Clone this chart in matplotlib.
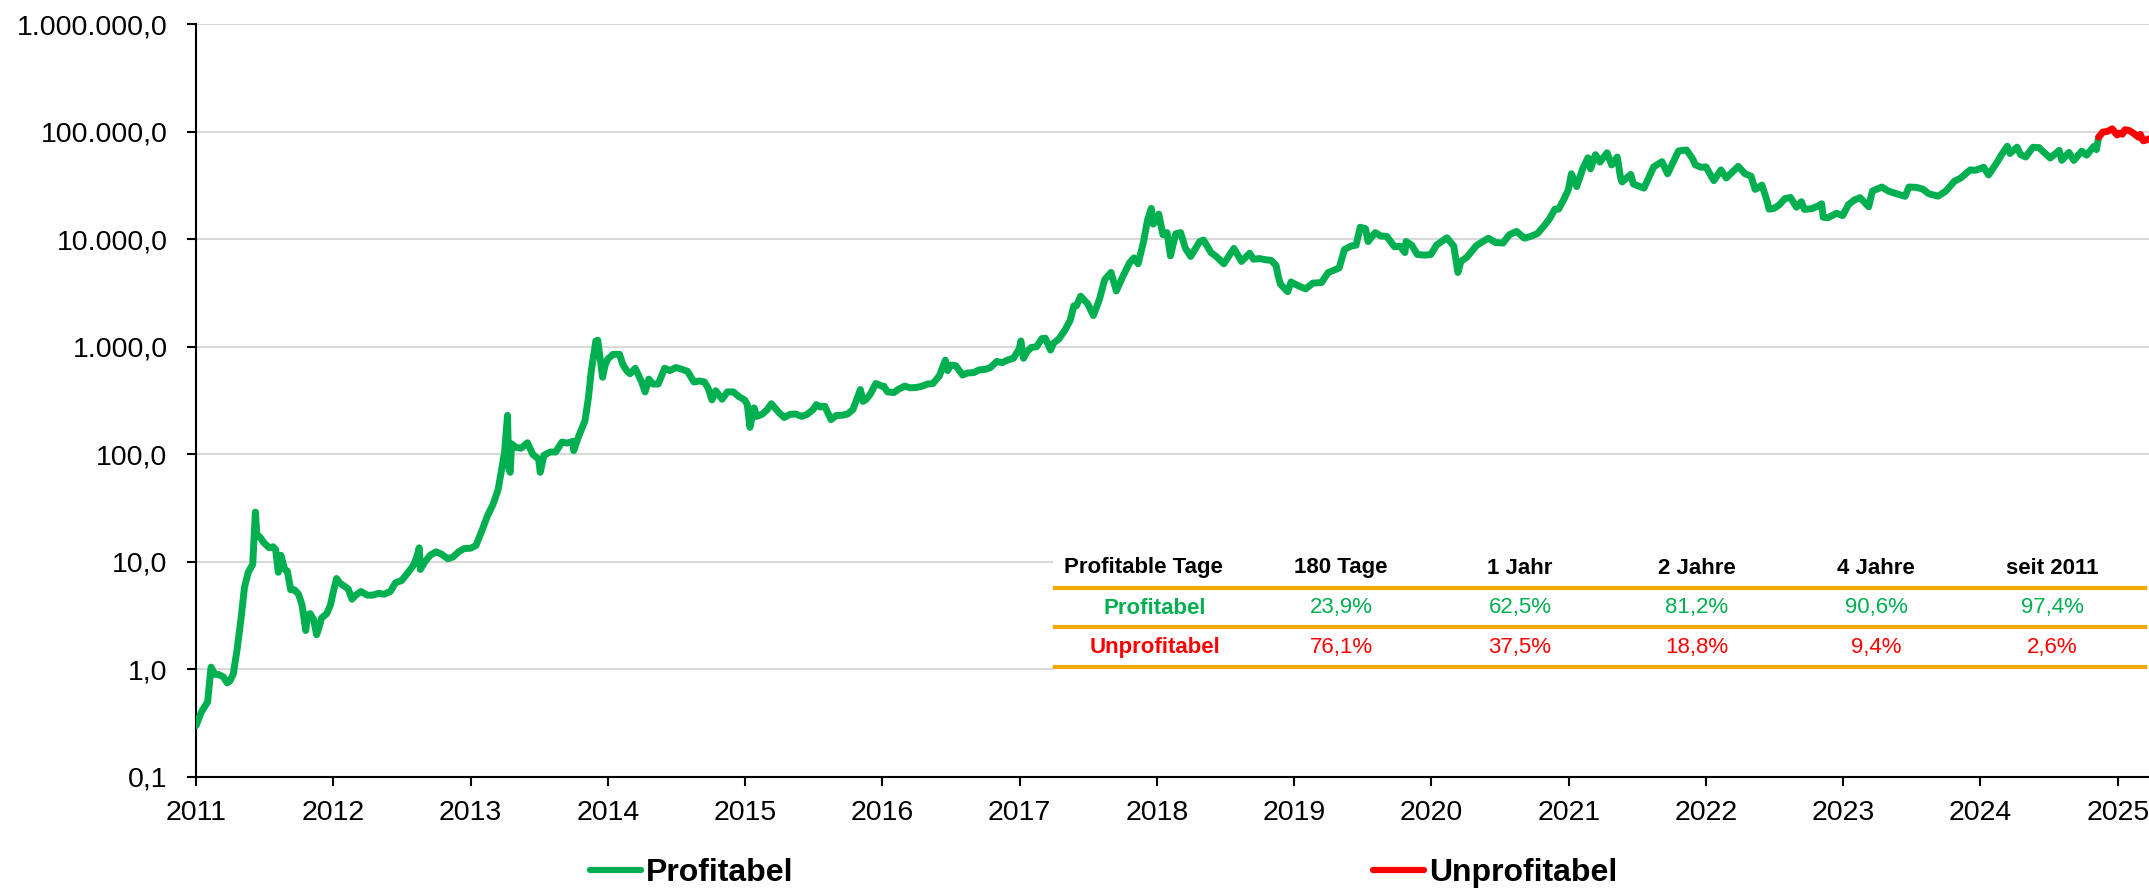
import matplotlib
matplotlib.use("Agg")
import matplotlib.pyplot as plt
from matplotlib.ticker import FixedLocator, FuncFormatter, NullLocator
from matplotlib.lines import Line2D
import pandas as pd

plt.rcParams['font.family'] = ['Liberation Sans', 'DejaVu Sans']

# ---------------- data ----------------
profit_dates = [
    "2011-01-01","2011-01-15","2011-02-01","2011-02-10","2011-02-20","2011-03-01","2011-03-15","2011-03-25",
    "2011-04-01","2011-04-10","2011-04-20","2011-05-01","2011-05-10","2011-05-20","2011-06-01","2011-06-08",
    "2011-06-12","2011-06-20","2011-07-01","2011-07-15","2011-07-25","2011-08-01","2011-08-08","2011-08-15",
    "2011-08-25","2011-09-01","2011-09-10","2011-09-20","2011-10-01","2011-10-10","2011-10-20","2011-10-25",
    "2011-11-01","2011-11-10","2011-11-18","2011-11-25","2011-12-01","2011-12-15","2011-12-25",
    "2012-01-01","2012-01-10","2012-01-20","2012-02-01","2012-02-10","2012-02-20","2012-03-01","2012-03-15",
    "2012-04-01","2012-04-15","2012-05-01","2012-05-15","2012-06-01","2012-06-15","2012-07-01","2012-07-15",
    "2012-08-01","2012-08-10","2012-08-17","2012-08-20","2012-09-01","2012-09-15","2012-10-01","2012-10-15",
    "2012-11-01","2012-11-15","2012-12-01","2012-12-15",
    "2013-01-01","2013-01-15","2013-02-01","2013-02-15","2013-03-01","2013-03-15","2013-03-25","2013-04-01",
    "2013-04-09","2013-04-12","2013-04-16","2013-04-20","2013-05-01","2013-05-15","2013-06-01","2013-06-15",
    "2013-07-01","2013-07-05","2013-07-15","2013-08-01","2013-08-15","2013-09-01","2013-09-15","2013-10-01",
    "2013-10-02","2013-10-15","2013-11-01","2013-11-10","2013-11-18","2013-11-30","2013-12-05","2013-12-10",
    "2013-12-18","2013-12-25",
    "2014-01-01","2014-01-15","2014-02-01","2014-02-10","2014-02-20","2014-03-01","2014-03-15","2014-04-01",
    "2014-04-10","2014-04-20","2014-05-01","2014-05-15","2014-06-01","2014-06-15","2014-07-01","2014-07-15",
    "2014-08-01","2014-08-18","2014-09-01","2014-09-15","2014-09-25","2014-10-05","2014-10-15","2014-11-01",
    "2014-11-15","2014-12-01","2014-12-15","2014-12-31",
    "2015-01-07","2015-01-14","2015-01-25","2015-02-01","2015-02-15","2015-03-01","2015-03-12","2015-04-01",
    "2015-04-15","2015-05-01","2015-05-15","2015-06-01","2015-06-15","2015-07-01","2015-07-10","2015-07-20",
    "2015-08-01","2015-08-18","2015-09-01","2015-09-15","2015-10-01","2015-10-15","2015-11-04","2015-11-11",
    "2015-11-20","2015-12-01","2015-12-15","2015-12-31",
    "2016-01-05","2016-01-15","2016-02-01","2016-02-15","2016-03-01","2016-03-15","2016-04-01","2016-04-15",
    "2016-05-01","2016-05-15","2016-06-01","2016-06-17","2016-06-23","2016-07-01","2016-07-15","2016-08-02",
    "2016-08-15","2016-09-01","2016-09-15","2016-10-01","2016-10-15","2016-11-01","2016-11-15","2016-12-01",
    "2016-12-15","2016-12-31",
    "2017-01-04","2017-01-11","2017-01-20","2017-02-01","2017-02-15","2017-03-01","2017-03-10","2017-03-24",
    "2017-04-01","2017-04-15","2017-05-01","2017-05-15","2017-05-25","2017-06-01","2017-06-12","2017-07-01",
    "2017-07-16","2017-08-01","2017-08-15","2017-09-01","2017-09-15","2017-10-01","2017-10-20","2017-11-01",
    "2017-11-12","2017-11-26","2017-12-07","2017-12-17","2017-12-22","2017-12-28",
    "2018-01-06","2018-01-17","2018-01-28","2018-02-06","2018-02-20","2018-03-05","2018-03-18","2018-04-01",
    "2018-04-25","2018-05-05","2018-05-25","2018-06-10","2018-06-28","2018-07-25","2018-08-14","2018-09-05",
    "2018-09-15","2018-10-01","2018-10-15","2018-11-01","2018-11-14","2018-11-20","2018-11-26","2018-12-15",
    "2018-12-24",
    "2019-01-01","2019-01-15","2019-02-01","2019-02-20","2019-03-15","2019-04-02","2019-04-15","2019-05-01",
    "2019-05-15","2019-06-01","2019-06-15","2019-06-26","2019-07-10","2019-07-17","2019-08-05","2019-08-20",
    "2019-09-05","2019-09-25","2019-10-10","2019-10-23","2019-10-26","2019-11-10","2019-11-25","2019-12-15",
    "2019-12-31",
    "2020-01-15","2020-02-12","2020-03-01","2020-03-12","2020-03-20","2020-04-05","2020-04-30","2020-05-15",
    "2020-06-01","2020-06-20","2020-07-10","2020-07-27","2020-08-15","2020-09-05","2020-09-25","2020-10-10",
    "2020-10-25","2020-11-10","2020-11-25","2020-12-05","2020-12-20","2020-12-31",
    "2021-01-08","2021-01-22","2021-02-08","2021-02-21","2021-02-28","2021-03-13","2021-03-25","2021-04-13",
    "2021-04-25","2021-05-10","2021-05-19","2021-05-23","2021-06-15","2021-06-22","2021-07-20","2021-08-15",
    "2021-09-06","2021-09-21","2021-10-01","2021-10-20","2021-11-10","2021-11-25","2021-12-04","2021-12-20",
    "2022-01-01","2022-01-22","2022-02-10","2022-02-24","2022-03-28","2022-04-15","2022-05-01","2022-05-12",
    "2022-05-30","2022-06-13","2022-06-18","2022-07-01","2022-07-15","2022-07-30","2022-08-14","2022-08-30",
    "2022-09-12","2022-09-20","2022-10-10","2022-10-30","2022-11-05","2022-11-09","2022-11-21","2022-12-15",
    "2022-12-31",
    "2023-01-15","2023-01-31","2023-02-15","2023-03-10","2023-03-20","2023-04-14","2023-05-01","2023-05-25",
    "2023-06-15","2023-06-25","2023-07-15","2023-08-01","2023-08-17","2023-09-11","2023-10-01","2023-10-24",
    "2023-11-10","2023-12-05","2023-12-20",
    "2024-01-10","2024-01-23","2024-02-15","2024-02-28","2024-03-13","2024-03-20","2024-04-08","2024-04-17",
    "2024-05-01","2024-05-20","2024-06-05","2024-06-25","2024-07-05","2024-07-29","2024-08-05","2024-08-24",
    "2024-09-06","2024-09-27","2024-10-10","2024-10-29","2024-11-05","2024-11-11",
]
profit_prices = [
    0.30, 0.40, 0.50, 1.05, 0.90, 0.90, 0.85, 0.75,
    0.78, 0.90, 1.5, 3.0, 5.8, 8.0, 9.5, 29.0,
    18.0, 17.0, 15.0, 13.5, 13.8, 13.0, 8.0, 11.5,
    8.5, 8.2, 5.5, 5.5, 5.0, 4.0, 2.3, 3.2,
    3.3, 2.9, 2.1, 2.5, 3.0, 3.3, 4.0,
    5.2, 7.0, 6.3, 5.9, 5.6, 4.5, 4.9, 5.3,
    4.9, 4.9, 5.1, 5.0, 5.3, 6.4, 6.7, 7.7,
    9.2, 11.0, 13.5, 8.5, 10.0, 11.5, 12.4, 11.8,
    10.7, 11.1, 12.5, 13.3,
    13.4, 14.2, 20.0, 27.0, 34.0, 47.0, 75.0, 104.0,
    230.0, 75.0, 68.0, 125.0, 116.0, 114.0, 128.0, 100.0,
    90.0, 68.0, 98.0, 105.0, 105.0, 130.0, 127.0, 132.0,
    108.0, 146.0, 205.0, 330.0, 600.0, 1130.0, 1150.0, 850.0,
    520.0, 680.0,
    770.0, 850.0, 850.0, 680.0, 600.0, 560.0, 630.0, 470.0,
    380.0, 500.0, 450.0, 450.0, 630.0, 600.0, 640.0, 620.0,
    590.0, 470.0, 480.0, 470.0, 410.0, 320.0, 390.0, 325.0,
    380.0, 380.0, 345.0, 320.0,
    290.0, 178.0, 270.0, 225.0, 235.0, 260.0, 295.0, 245.0,
    220.0, 235.0, 237.0, 225.0, 235.0, 260.0, 290.0, 275.0,
    280.0, 210.0, 230.0, 230.0, 237.0, 260.0, 400.0, 310.0,
    325.0, 365.0, 455.0, 430.0,
    430.0, 380.0, 375.0, 405.0, 430.0, 415.0, 418.0, 428.0,
    450.0, 455.0, 535.0, 750.0, 600.0, 675.0, 665.0, 545.0,
    570.0, 575.0, 610.0, 615.0, 640.0, 730.0, 710.0, 755.0,
    780.0, 960.0,
    1130.0, 780.0, 895.0, 985.0, 1000.0, 1190.0, 1200.0, 930.0,
    1080.0, 1180.0, 1420.0, 1750.0, 2400.0, 2400.0, 2950.0, 2500.0,
    1950.0, 2750.0, 4200.0, 4900.0, 3300.0, 4400.0, 6000.0, 6700.0,
    5900.0, 9300.0, 15000.0, 19300.0, 13800.0, 14500.0,
    17100.0, 11000.0, 11500.0, 7000.0, 11200.0, 11500.0, 8200.0, 6900.0,
    9500.0, 9800.0, 7500.0, 6800.0, 5900.0, 8200.0, 6200.0, 7400.0,
    6500.0, 6600.0, 6450.0, 6350.0, 5700.0, 4500.0, 3800.0, 3250.0,
    4000.0,
    3850.0, 3650.0, 3450.0, 3900.0, 3950.0, 4900.0, 5100.0, 5400.0,
    8000.0, 8600.0, 8800.0, 12900.0, 12500.0, 9500.0, 11500.0, 10700.0,
    10600.0, 8500.0, 8600.0, 7500.0, 9500.0, 8800.0, 7200.0, 7100.0,
    7200.0,
    8800.0, 10300.0, 8600.0, 4900.0, 6200.0, 6800.0, 8700.0, 9400.0,
    10200.0, 9300.0, 9200.0, 11000.0, 11800.0, 10200.0, 10700.0, 11300.0,
    13000.0, 15300.0, 19000.0, 19000.0, 23800.0, 29000.0,
    40500.0, 30800.0, 46000.0, 57000.0, 45000.0, 61000.0, 52000.0, 63500.0,
    49000.0, 58000.0, 37000.0, 34000.0, 40000.0, 32500.0, 29800.0, 47000.0,
    52500.0, 40500.0, 48000.0, 66000.0, 67500.0, 57000.0, 49000.0, 46500.0,
    47000.0, 35000.0, 44000.0, 37000.0, 47500.0, 40500.0, 38500.0, 29000.0,
    31800.0, 22500.0, 19000.0, 19300.0, 20800.0, 23800.0, 24400.0, 19800.0,
    22300.0, 18900.0, 19200.0, 20600.0, 21300.0, 16000.0, 15800.0, 17400.0,
    16550.0,
    20900.0, 23100.0, 24300.0, 20000.0, 28000.0, 30500.0, 28000.0, 26300.0,
    25000.0, 30500.0, 30300.0, 29200.0, 26400.0, 25100.0, 27900.0, 34500.0,
    37000.0, 44000.0, 43700.0,
    46600.0, 39500.0, 52000.0, 62000.0, 73000.0, 62500.0, 71600.0, 61300.0,
    58000.0, 71400.0, 71000.0, 61000.0, 56700.0, 66800.0, 54000.0, 64000.0,
    53900.0, 65800.0, 60300.0, 72700.0, 68000.0, 88700.0,
]
unprofit_dates = [
    "2024-11-11","2024-11-22","2024-12-05","2024-12-17","2024-12-30","2025-01-07","2025-01-13",
    "2025-01-20","2025-01-31","2025-02-10","2025-02-25","2025-03-02","2025-03-10","2025-03-20","2025-03-25",
]
unprofit_prices = [
    88700.0, 98900.0, 100500.0, 106000.0, 93000.0, 96900.0, 94500.0,
    104000.0, 102400.0, 97400.0, 88700.0, 94200.0, 82000.0, 84000.0, 85500.0,
]

table_header = ["Profitable Tage", "180 Tage", "1 Jahr", "2 Jahre", "4 Jahre", "seit 2011"]
row_labels = ["Profitabel", "Unprofitabel"]
profit_pct = ["23,9%", "62,5%", "81,2%", "90,6%", "97,4%"]
unprofit_pct = ["76,1%", "37,5%", "18,8%", "9,4%", "2,6%"]
year_ticks = list(range(2011, 2026))
y_ticks = [0.1, 1, 10, 100, 1000, 10000, 100000, 1000000]

GREEN = "#00B050"
RED = "#FF0000"
ORANGE = "#F2A900"
GRID = "#D9D9D9"

W, H = 2149, 891
fig = plt.figure(figsize=(W / 100, H / 100), dpi=100)

# axes placement in pixels
L, R, T, B = 196, 2149, 24, 777
ax = fig.add_axes([L / W, 1 - B / H, (R - L) / W, (B - T) / H])

pd_profit = pd.to_datetime(profit_dates)
pd_unprofit = pd.to_datetime(unprofit_dates)

LW = 5.0
ax.plot(pd_profit, profit_prices, color=GREEN, lw=LW, solid_joinstyle="round",
        solid_capstyle="round", zorder=3, label="Profitabel")
ax.plot(pd_unprofit, unprofit_prices, color=RED, lw=LW, solid_joinstyle="round",
        solid_capstyle="round", zorder=3, label="Unprofitabel")

ax.set_yscale("log")
ax.set_ylim(0.1, 1000000)
ax.set_xlim(pd.Timestamp("2011-01-01"), pd.Timestamp("2025-03-25"))


def de_fmt(v, pos):
    s = f"{v:,.1f}"
    return s.replace(",", "X").replace(".", ",").replace("X", ".")


ax.yaxis.set_major_locator(FixedLocator(y_ticks))
ax.yaxis.set_minor_locator(NullLocator())
ax.yaxis.set_major_formatter(FuncFormatter(de_fmt))
ax.set_xticks([pd.Timestamp(f"{y}-01-01") for y in year_ticks])
ax.set_xticklabels([str(y) for y in year_ticks])

ax.grid(axis="y", color=GRID, lw=1.5, zorder=0)
ax.set_axisbelow(True)
for s in ["top", "right"]:
    ax.spines[s].set_visible(False)
for s in ["left", "bottom"]:
    ax.spines[s].set_linewidth(1.5)
    ax.spines[s].set_color("black")
ax.tick_params(axis="both", direction="out", length=6.5, width=1.5, labelsize=20.5)
ax.tick_params(axis="x", pad=10)
ax.tick_params(axis="y", pad=14)

# ---------------- table ----------------
def fx(px):
    return px / W


def fy(py):
    return 1 - py / H


bg = plt.Rectangle((fx(1053), fy(672)), fx(2149) - fx(1053), fy(556) - fy(672),
                   transform=fig.transFigure, facecolor="white", edgecolor="none", zorder=5)
fig.patches.append(bg)

col_x = [1143, 1341, 1520, 1697, 1876, 2052]
row_label_x = 1155
for i, h in enumerate(table_header):
    fig.text(fx(col_x[i]), fy(568), h, ha="center", va="center", fontsize=16,
             fontweight="bold", color="black", zorder=6)
fig.text(fx(row_label_x), fy(608), row_labels[0], ha="center", va="center", fontsize=16,
         fontweight="bold", color=GREEN, zorder=6)
fig.text(fx(row_label_x), fy(648), row_labels[1], ha="center", va="center", fontsize=16,
         fontweight="bold", color=RED, zorder=6)
for i, v in enumerate(profit_pct):
    fig.text(fx(col_x[i + 1]), fy(608), v, ha="center", va="center", fontsize=16,
             color=GREEN, zorder=6)
for i, v in enumerate(unprofit_pct):
    fig.text(fx(col_x[i + 1]), fy(648), v, ha="center", va="center", fontsize=16,
             color=RED, zorder=6)
for yy in [588, 627, 667]:
    fig.add_artist(Line2D([fx(1055), fx(2145)], [fy(yy), fy(yy)], transform=fig.transFigure,
                          color=ORANGE, lw=3.0, zorder=6))

# ---------------- legend ----------------
h_g = Line2D([], [], color=GREEN, lw=4.5, solid_capstyle="round")
h_r = Line2D([], [], color=RED, lw=4.5, solid_capstyle="round")
leg_kw = dict(frameon=False, loc="center left", handlelength=1.6, handletextpad=0.15,
              borderpad=0, borderaxespad=0,
              prop={"size": 23, "weight": "bold"})
fig.legend([h_g], ["Profitabel"], bbox_to_anchor=(fx(590), fy(873)), **leg_kw)
fig.legend([h_r], ["Unprofitabel"], bbox_to_anchor=(fx(1373), fy(873)), **leg_kw)

fig.savefig("out.png", dpi=100)
